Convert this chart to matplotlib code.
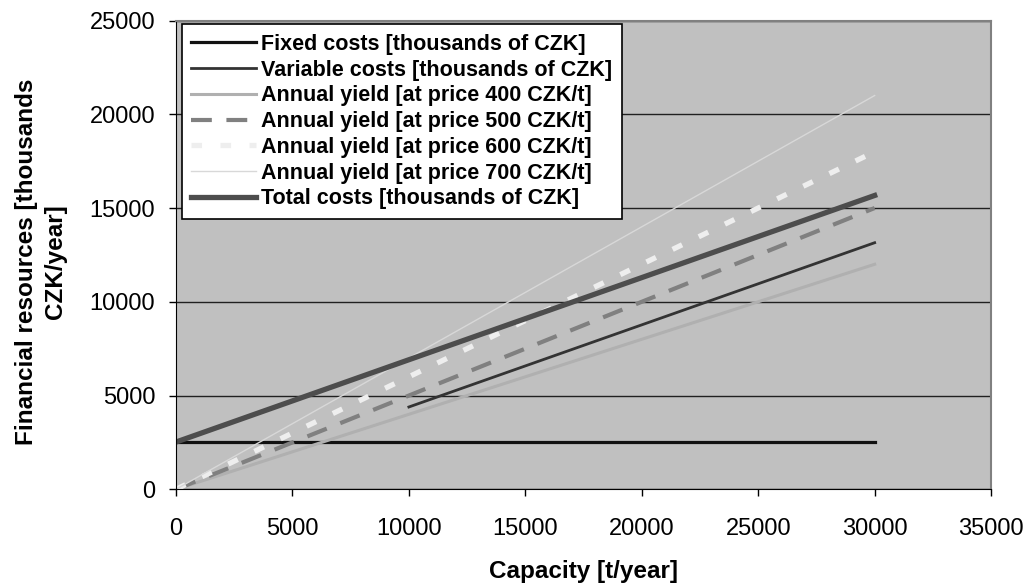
import numpy as np
import matplotlib.pyplot as plt

plt.rcParams['font.family'] = ['Liberation Sans', 'DejaVu Sans']

# capacity points [t/year]
capacity = [0, 10000, 20000, 30000]
fixed_costs = [2520, 2520, 2520, 2520]
var_capacity = [10000, 20000, 30000]
variable_costs = [4390, 8770, 13150]
yield_400 = [0, 4000, 8000, 12000]
yield_500 = [0, 5000, 10000, 15000]
yield_600 = [0, 6000, 12000, 18000]
yield_700 = [0, 7000, 14000, 21000]
total_costs = [2520, 6910, 11290, 15670]

labels = ["Fixed costs [thousands of CZK]",
          "Variable costs [thousands of CZK]",
          "Annual yield [at price 400 CZK/t]",
          "Annual yield [at price 500 CZK/t]",
          "Annual yield [at price 600 CZK/t]",
          "Annual yield [at price 700 CZK/t]",
          "Total costs [thousands of CZK]"]

fig = plt.figure(figsize=(10.28, 5.86), dpi=100)
ax = fig.add_axes([0.1712, 0.1650, 0.7929, 0.8000])
ax.set_facecolor('#c0c0c0')

ax.plot(capacity, fixed_costs, color='#111111', lw=2.3, label=labels[0])
ax.plot(var_capacity, variable_costs, color='#333333', lw=2.0, label=labels[1])
ax.plot(capacity, yield_400, color='#b0b0b0', lw=2.2, label=labels[2])
ax.plot(capacity, yield_500, color='#808080', lw=3, dashes=(5, 3.5), label=labels[3])
ax.plot(capacity, yield_600, color='#eeeeee', lw=3.8, dashes=(2, 3.5), label=labels[4])
ax.plot(capacity, yield_700, color='#d8d8d8', lw=1.0, label=labels[5])
ax.plot(capacity, total_costs, color='#4d4d4d', lw=3.8, label=labels[6])

ax.set_xlim(0, 35000)
ax.set_ylim(0, 25000)
ax.set_xticks(np.arange(0, 35001, 5000))
ax.set_yticks(np.arange(0, 25001, 5000))
ax.yaxis.grid(True, color='#202020', lw=1)
ax.set_axisbelow(True)
ax.tick_params(direction='out', length=5, labelsize=17, width=1)
ax.tick_params(axis='x', pad=16)
ax.tick_params(axis='y', pad=10)

for side in ['top', 'right']:
    ax.spines[side].set_color('#808080')
    ax.spines[side].set_linewidth(1.5)
for side in ['left', 'bottom']:
    ax.spines[side].set_color('black')

ax.set_xlabel('Capacity [t/year]', fontsize=17.5, fontweight='bold', labelpad=14)
ax.set_ylabel('Financial resources [thousands\nCZK/year]', fontsize=17.5,
              fontweight='bold', labelpad=16, linespacing=1.36)
ax.yaxis.label.set_y(0.486)

leg = ax.legend(loc='upper left', bbox_to_anchor=(0.007, 0.992),
                prop={'weight': 'bold', 'size': 15.5}, frameon=True, fancybox=False,
                framealpha=1, edgecolor='black', handlelength=3.0, handletextpad=0.25,
                labelspacing=0.22, borderpad=0.45, borderaxespad=0)
leg.get_frame().set_linewidth(1.2)

fig.savefig('out.png', dpi=100)
